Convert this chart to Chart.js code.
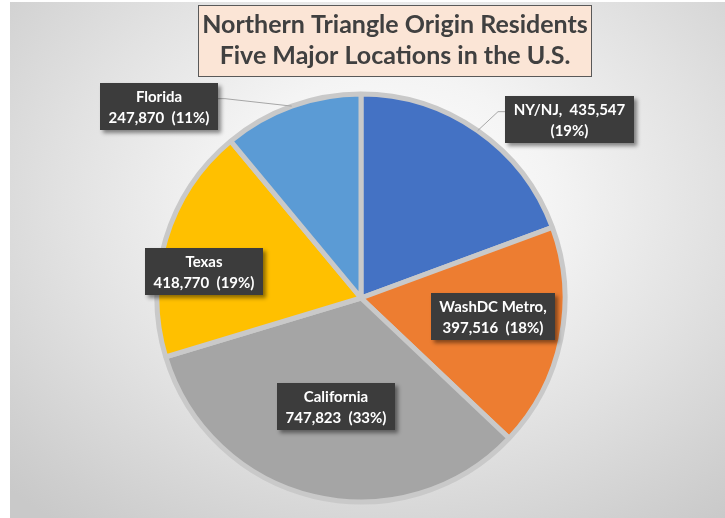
<!DOCTYPE html>
<html><head><meta charset="utf-8">
<script src="https://cdn.jsdelivr.net/npm/chart.js@4/dist/chart.umd.min.js"></script>
<style>
html,body{margin:0;padding:0;background:#fff;width:725px;height:518px;overflow:hidden;}
#wrap{position:absolute;left:10px;top:2px;width:715px;height:516px;
background:radial-gradient(ellipse 75% 80% at 53% 38%, #ffffff 0%, #f4f4f4 30%, #e2e2e2 60%, #cfcfcf 90%, #c9c9c9 100%);}
canvas{display:block}
</style></head><body>
<div id="wrap"><canvas id="c" width="715" height="516"></canvas></div>
<script>
// ---- data ----
const titleLines = ['Northern Triangle Origin Residents', 'Five Major Locations in the U.S.'];
const categories = ['NY/NJ', 'WashDC Metro', 'California', 'Texas', 'Florida'];
const residents = [435547, 397516, 747823, 418770, 247870];

// ---- styling / layout (not data) ----
const sliceColors = ['#4472C4', '#ED7D31', '#A5A5A5', '#FFC000', '#5B9BD5'];
const labelTemplates = [
  ['{name},  {value}', '({pct}%)'],
  ['{name},', '{value}  ({pct}%)'],
  ['{name}', '{value}  ({pct}%)'],
  ['{name}', '{value}  ({pct}%)'],
  ['{name}', '{value}  ({pct}%)']
];
// label centre offsets from pie centre, in units of the pie radius
const labelOffsets = [[1.02, -0.873], [0.647, 0.093], [-0.123, 0.534], [-0.770, -0.132], [-0.988, -0.939]];
const leaderLines = [true, false, false, false, true];

const total = residents.reduce((a, b) => a + b, 0);
const fmt = n => n.toLocaleString('en-US');

const titlePlugin = {
  id: 'titleBox',
  afterDraw(chart) {
    const ctx = chart.ctx;
    ctx.save();
    const x0 = 188, y0 = 3, w = 394, h = 72;
    ctx.fillStyle = '#FBE5D6';
    ctx.fillRect(x0, y0, w, h);
    ctx.strokeStyle = '#595959';
    ctx.lineWidth = 1;
    ctx.strokeRect(x0 + 0.5, y0 + 0.5, w - 1, h - 1);
    ctx.fillStyle = '#404040';
    ctx.font = 'bold 25px Lato';
    ctx.textAlign = 'center';
    ctx.textBaseline = 'alphabetic';
    ctx.fillText(titleLines[0], x0 + w / 2, 31);
    ctx.fillText(titleLines[1], x0 + w / 2, 62);
    ctx.restore();
  }
};

const labelPlugin = {
  id: 'boxLabels',
  afterDatasetsDraw(chart) {
    const ctx = chart.ctx;
    const meta = chart.getDatasetMeta(0);
    ctx.save();
    ctx.font = 'bold 15px Lato';
    meta.data.forEach((arc, i) => {
      const p = arc.getProps(['x', 'y', 'startAngle', 'endAngle', 'outerRadius'], true);
      const r = p.outerRadius;
      const pct = Math.round(residents[i] / total * 100);
      const lines = labelTemplates[i].map(t => t.replace('{name}', categories[i]).replace('{value}', fmt(residents[i])).replace('{pct}', pct));
      const tw = Math.max(...lines.map(l => ctx.measureText(l).width));
      const bw = Math.round(tw + 17), bh = 47;
      const cx = p.x + labelOffsets[i][0] * r, cy = p.y + labelOffsets[i][1] * r;
      const bx = Math.round(cx - bw / 2), by = Math.round(cy - bh / 2);
      if (leaderLines[i]) {
        const mid = (p.startAngle + p.endAngle) / 2;
        const ax = p.x + Math.cos(mid) * r, ay = p.y + Math.sin(mid) * r;
        const attachRight = cx < ax;
        const ex = attachRight ? bx + bw : bx;
        const ey = by + bh / 3;
        const sx = attachRight ? ex + 7 : ex - 7;
        ctx.strokeStyle = '#A6A6A6';
        ctx.lineWidth = 1;
        ctx.beginPath();
        ctx.moveTo(ax, ay);
        ctx.lineTo(sx, ey);
        ctx.lineTo(ex, ey);
        ctx.stroke();
      }
      ctx.save();
      ctx.shadowColor = 'rgba(0,0,0,0.45)';
      ctx.shadowBlur = 4;
      ctx.shadowOffsetX = 3;
      ctx.shadowOffsetY = 3;
      ctx.fillStyle = '#3C3C3C';
      ctx.fillRect(bx, by, bw, bh);
      ctx.restore();
      ctx.fillStyle = '#FFFFFF';
      ctx.textAlign = 'center';
      ctx.textBaseline = 'alphabetic';
      ctx.fillText(lines[0], bx + bw / 2, by + bh / 2 - 5);
      ctx.fillText(lines[1], bx + bw / 2, by + bh / 2 + 16);
    });
    ctx.restore();
  }
};

new Chart(document.getElementById('c'), {
  type: 'pie',
  data: {
    labels: categories,
    datasets: [{
      data: residents,
      backgroundColor: sliceColors,
      borderColor: '#C9C9C9',
      borderWidth: 5,
      hoverOffset: 0
    }]
  },
  options: {
    responsive: false,
    animation: false,
    radius: 204,
    layout: { padding: { top: 92, bottom: 16, left: 0, right: 13 } },
    plugins: { legend: { display: false }, tooltip: { enabled: false }, title: { display: false } }
  },
  plugins: [titlePlugin, labelPlugin]
});
</script>
</body></html>
